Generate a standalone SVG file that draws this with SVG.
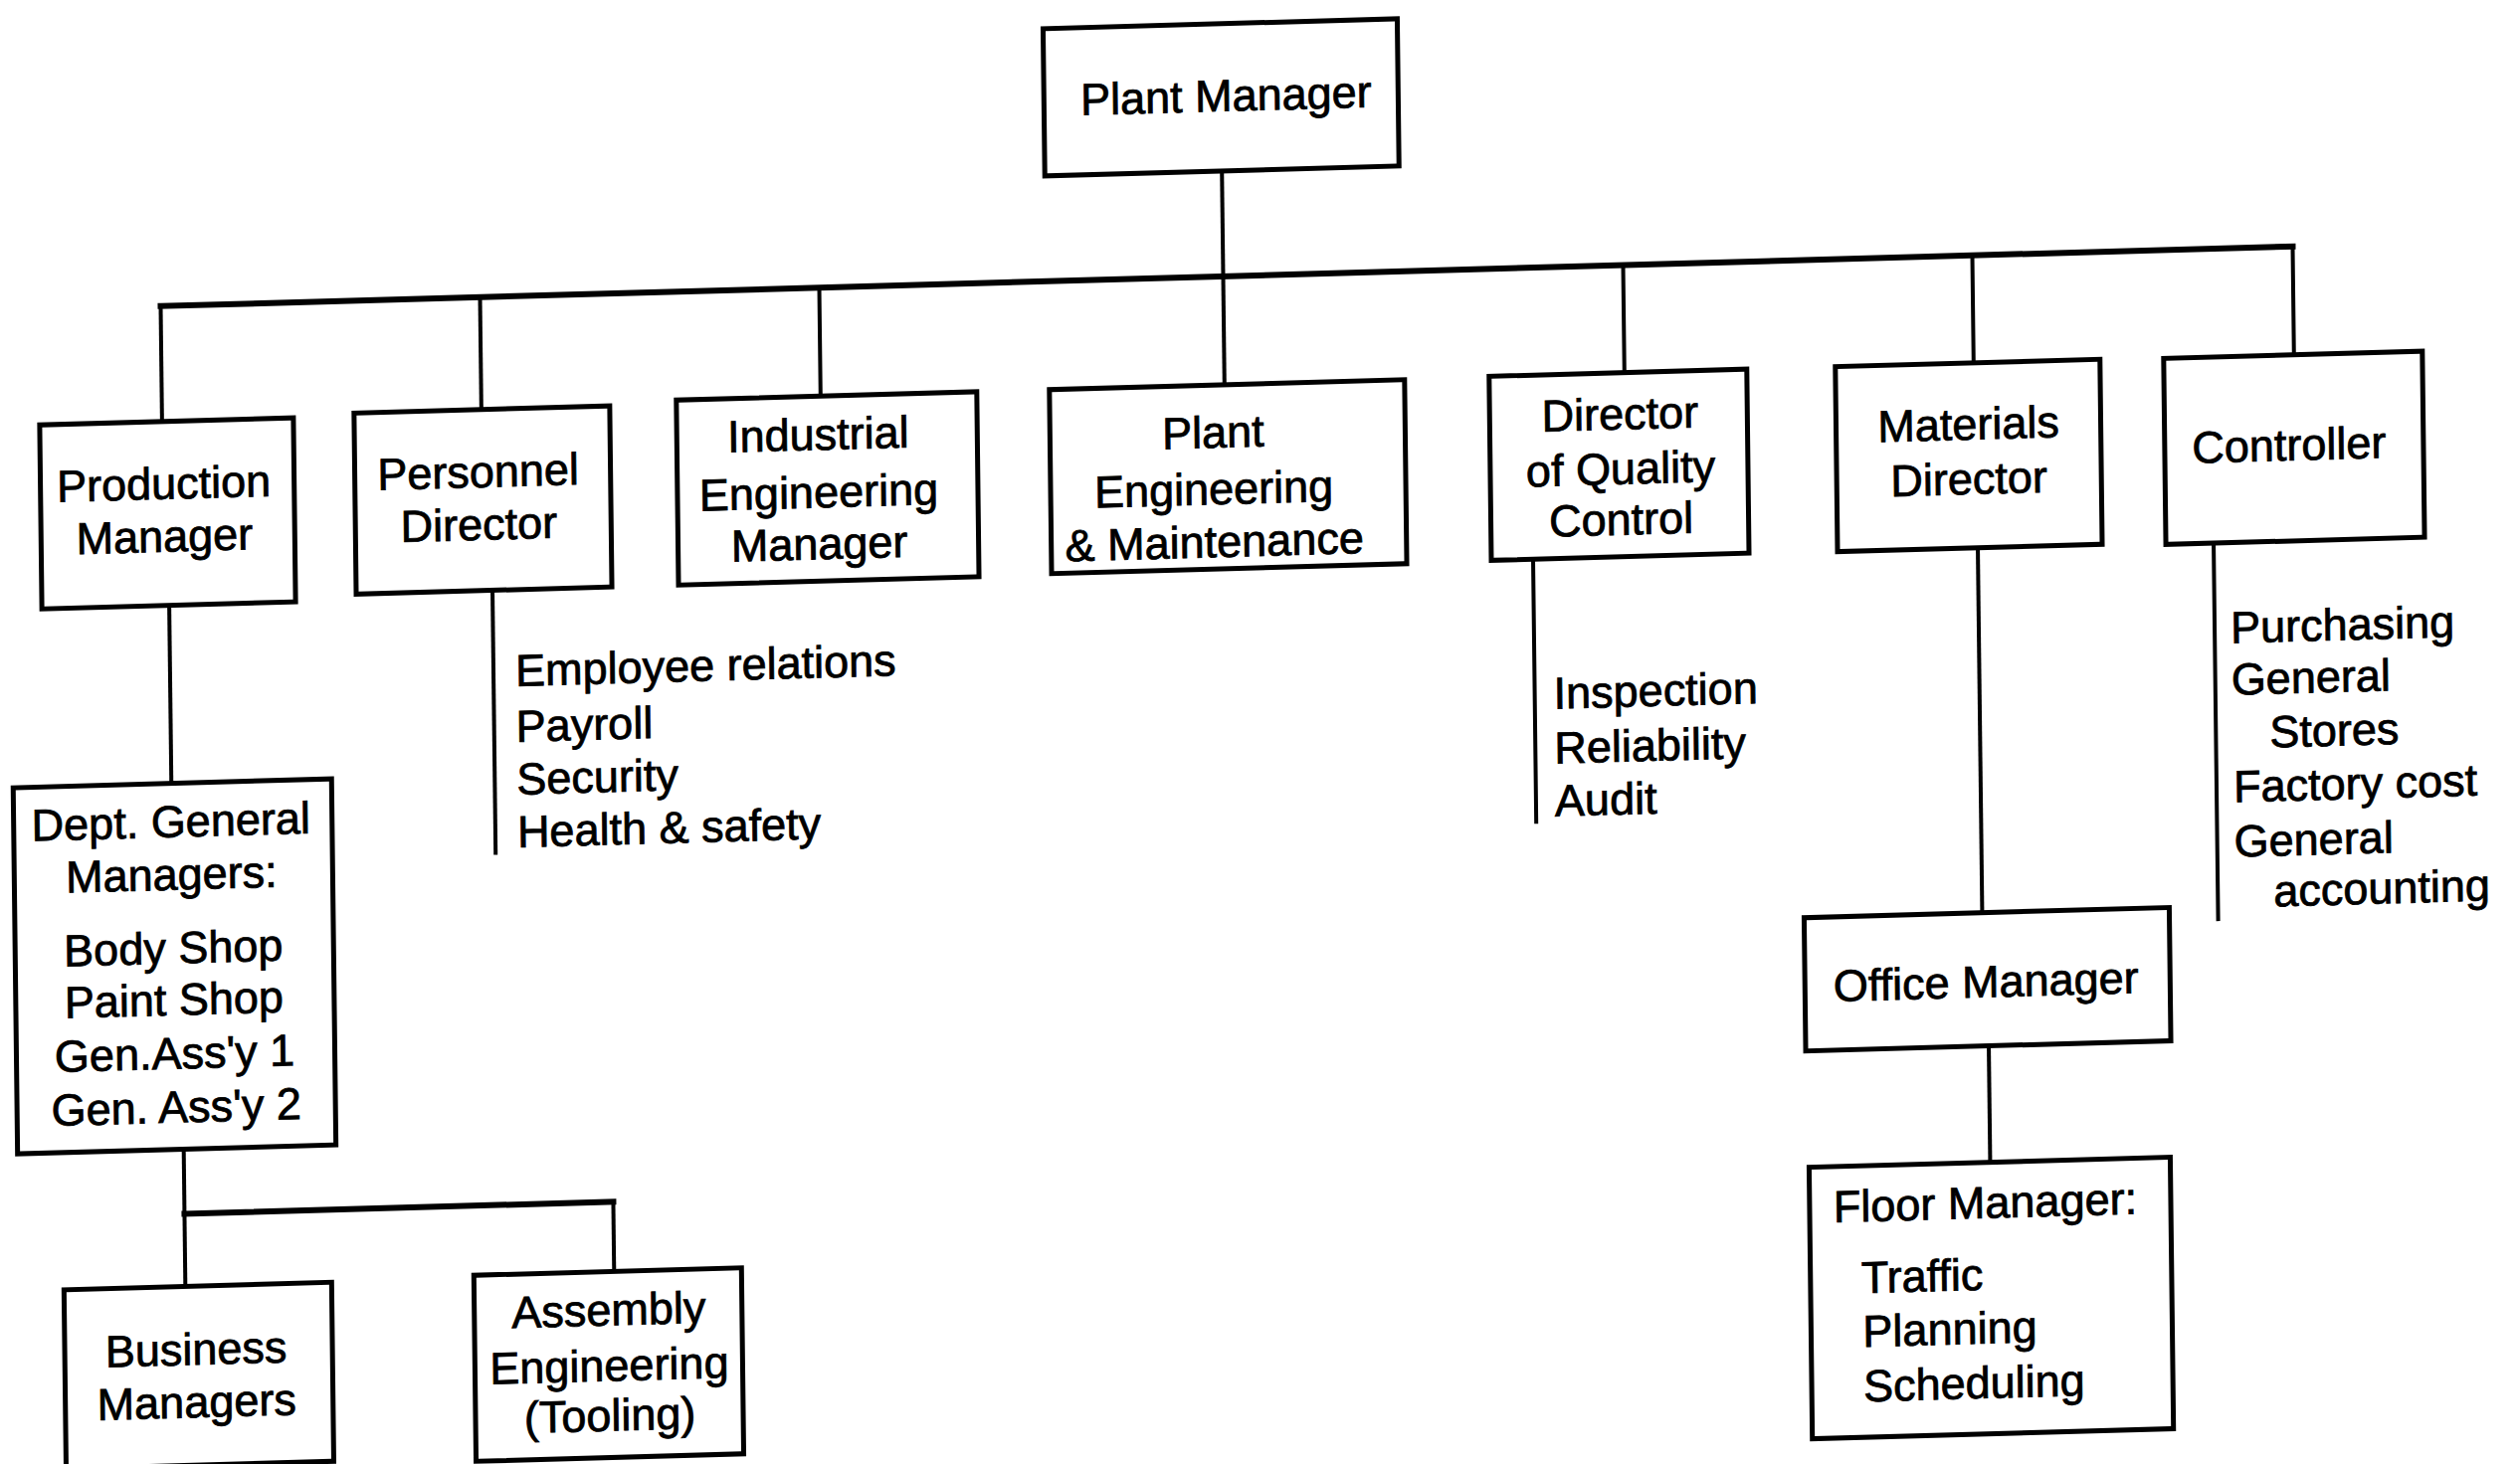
<svg xmlns="http://www.w3.org/2000/svg" width="2533" height="1472" viewBox="0 0 2533 1472">
<style>
.box{fill:#fff;stroke:#000;stroke-width:5}
.ln{stroke:#000;stroke-width:4;fill:none;stroke-linecap:square}
.bus{stroke-width:6}
text{font-family:"Liberation Sans",Arial,Helvetica,sans-serif;font-size:45px;fill:#000;stroke:#000;stroke-width:0.8}
.c{text-anchor:middle}
</style>
<rect width="2533" height="1472" fill="#fff"/>
<g transform="matrix(1,-0.028,0.012,1,-8.83,35.45)">
<g id="connectors">
<line class="ln" x1="1235" y1="171" x2="1235" y2="386"/>
<line class="ln bus" x1="167" y1="277" x2="2310" y2="277"/>
<line class="ln" x1="167" y1="277" x2="167" y2="393"/>
<line class="ln" x1="488" y1="277" x2="488" y2="390"/>
<line class="ln" x1="829" y1="277" x2="829" y2="386"/>
<line class="ln" x1="1637" y1="277" x2="1637" y2="385"/>
<line class="ln" x1="1988" y1="277" x2="1988" y2="385"/>
<line class="ln" x1="2310" y1="277" x2="2310" y2="386"/>
<line class="ln" x1="172" y1="578" x2="172" y2="757"/>
<line class="ln" x1="180" y1="1125" x2="180" y2="1263"/>
<line class="ln bus" x1="180" y1="1190" x2="611" y2="1190"/>
<line class="ln" x1="611" y1="1190" x2="611" y2="1260"/>
<line class="ln" x1="1990" y1="571" x2="1990" y2="938"/>
<line class="ln" x1="1995" y1="1072" x2="1995" y2="1189"/>
<line class="ln" x1="497" y1="572" x2="497" y2="836"/>
<line class="ln" x1="1543" y1="570" x2="1543" y2="834"/>
<line class="ln" x1="2227" y1="573" x2="2227" y2="951"/>
</g>
<g id="plant-manager">
<rect class="box" x="1057" y="23" width="356" height="148"/>
<text class="c" x="1240" y="111">Plant Manager</text>
</g>
<g id="production-manager">
<rect class="box" x="44" y="393" width="255" height="185"/>
<text class="c" x="168" y="471">Production</text>
<text class="c" x="168" y="524">Manager</text>
</g>
<g id="personnel-director">
<rect class="box" x="360" y="390" width="257" height="182"/>
<text class="c" x="484" y="468">Personnel</text>
<text class="c" x="484" y="521">Director</text>
</g>
<g id="personnel-duties">
<text x="519" y="669">Employee relations</text>
<text x="519" y="725">Payroll</text>
<text x="519" y="778">Security</text>
<text x="519" y="831">Health &amp; safety</text>
</g>
<g id="industrial-engineering-manager">
<rect class="box" x="684" y="386" width="302" height="186"/>
<text class="c" x="826" y="440">Industrial</text>
<text class="c" x="826" y="498">Engineering</text>
<text class="c" x="826" y="550">Manager</text>
</g>
<g id="plant-engineering">
<rect class="box" x="1059" y="386" width="357" height="185"/>
<text class="c" x="1223" y="449">Plant</text>
<text class="c" x="1223" y="506">Engineering</text>
<text class="c" x="1223" y="559">&amp; Maintenance</text>
</g>
<g id="quality-director">
<rect class="box" x="1501" y="385" width="259" height="185"/>
<text class="c" x="1632" y="442">Director</text>
<text class="c" x="1632" y="497">of Quality</text>
<text class="c" x="1632" y="548">Control</text>
</g>
<g id="quality-duties">
<text x="1562" y="721">Inspection</text>
<text x="1562" y="776">Reliability</text>
<text x="1562" y="829">Audit</text>
</g>
<g id="materials-director">
<rect class="box" x="1849" y="385" width="266" height="186"/>
<text class="c" x="1982" y="462">Materials</text>
<text class="c" x="1982" y="517">Director</text>
</g>
<g id="controller">
<rect class="box" x="2179" y="386" width="260" height="187"/>
<text class="c" x="2304" y="492">Controller</text>
</g>
<g id="controller-duties">
<text x="2243" y="674">Purchasing</text>
<text x="2243" y="726">General</text>
<text x="2281" y="780">Stores</text>
<text x="2244" y="834">Factory cost</text>
<text x="2244" y="889">General</text>
<text x="2283" y="940">accounting</text>
</g>
<g id="dept-general-managers">
<rect class="box" x="13" y="757" width="320" height="368"/>
<text class="c" x="171" y="811">Dept. General</text>
<text class="c" x="171" y="864">Managers:</text>
<text class="c" x="172" y="938">Body Shop</text>
<text class="c" x="172" y="990">Paint Shop</text>
<text class="c" x="172" y="1044">Gen.Ass'y 1</text>
<text class="c" x="173" y="1098">Gen. Ass'y 2</text>
</g>
<g id="business-managers">
<rect class="box" x="58" y="1263" width="269" height="180"/>
<text class="c" x="190" y="1342">Business</text>
<text class="c" x="190" y="1395">Managers</text>
</g>
<g id="assembly-engineering">
<rect class="box" x="470" y="1260" width="269" height="187"/>
<text class="c" x="605" y="1314">Assembly</text>
<text class="c" x="605" y="1370">Engineering</text>
<text class="c" x="605" y="1420">(Tooling)</text>
</g>
<g id="office-manager">
<rect class="box" x="1811" y="938" width="367" height="134"/>
<text class="c" x="1993" y="1023">Office Manager</text>
</g>
<g id="floor-manager">
<rect class="box" x="1813" y="1189" width="363" height="273"/>
<text x="1837" y="1245">Floor Manager:</text>
<text x="1864" y="1317">Traffic</text>
<text x="1865" y="1371">Planning</text>
<text x="1865" y="1426">Scheduling</text>
</g>
</g>
</svg>
